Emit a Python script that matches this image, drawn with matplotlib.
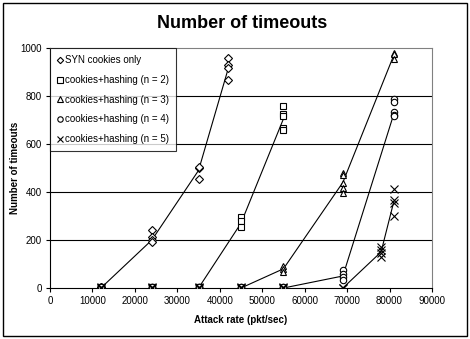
import matplotlib
matplotlib.use("Agg")
import matplotlib.pyplot as plt
from matplotlib.patches import Rectangle

plt.rcParams['font.family'] = ['Liberation Sans', 'DejaVu Sans']

# ---- data ----
series_names = ["SYN cookies only", "cookies+hashing (n = 2)", "cookies+hashing (n = 3)",
                "cookies+hashing (n = 4)", "cookies+hashing (n = 5)"]
markers = ["D", "s", "^", "o", "x"]

# individual trial points (x, y)
syn_x = [12000]*4 + [24000]*4 + [35000]*3 + [42000]*4
syn_y = [0, 2, 4, 6, 240, 213, 199, 192, 453, 498, 505, 958, 930, 915, 865]
n2_x = [12000]*3 + [24000]*3 + [35000]*3 + [45000]*3 + [55000]*5
n2_y = [0, 3, 6, 0, 3, 6, 0, 3, 6, 295, 280, 255, 757, 727, 718, 667, 657]
n3_x = [12000]*3 + [24000]*3 + [35000]*3 + [45000]*3 + [55000]*3 + [69000]*5 + [81000]*3
n3_y = [0, 2, 5]*4 + [92, 80, 67, 478, 471, 439, 416, 395, 980, 976, 953]
n4_x = [12000]*3 + [24000]*3 + [35000]*3 + [45000]*3 + [55000]*3 + [69000]*4 + [81000]*5
n4_y = [0, 3, 5]*5 + [74, 60, 45, 32, 788, 774, 732, 722, 715]
n5_x = [12000]*3 + [24000]*3 + [35000]*3 + [45000]*3 + [55000]*3 + [69000]*2 + [78000]*4 + [81000]*4
n5_y = [0, 2, 4]*5 + [0, 2] + [172, 158, 144, 130, 411, 367, 356, 300]

# average lines
syn_lx = [12000, 24000, 35000, 42000]
syn_ly = [0, 200, 490, 915]
n2_lx = [35000, 45000, 55000]
n2_ly = [0, 270, 705]
n3_lx = [45000, 55000, 69000, 81000]
n3_ly = [0, 80, 440, 970]
n4_lx = [55000, 69000, 81000]
n4_ly = [0, 50, 725]
n5_lx = [69000, 78000, 81000]
n5_ly = [0, 150, 360]

x_ticks = [0, 10000, 20000, 30000, 40000, 50000, 60000, 70000, 80000, 90000]
y_ticks = [0, 200, 400, 600, 800, 1000]

pts = [(syn_x, syn_y), (n2_x, n2_y), (n3_x, n3_y), (n4_x, n4_y), (n5_x, n5_y)]
lines = [(syn_lx, syn_ly), (n2_lx, n2_ly), (n3_lx, n3_ly), (n4_lx, n4_ly), (n5_lx, n5_ly)]

fig = plt.figure(figsize=(4.7, 3.39), dpi=100)
W, H = 470, 339
ax = fig.add_axes([50/W, 1-288/H, (432-50)/W, (288-48)/H])

# outer border
fig.patches.append(Rectangle((3/W, 3/H), (467-3)/W, (336-3)/H, transform=fig.transFigure,
                             fill=False, edgecolor='black', linewidth=1.0))

for y in [200, 400, 600, 800]:
    ax.axhline(y, color='black', linewidth=0.8, zorder=1)

handles = []
for (lx, ly) in lines:
    ax.plot(lx, ly, color='black', linewidth=0.8, zorder=2)
for (px, py), m, name in zip(pts, markers, series_names):
    ms = 3.8 if m == "D" else 4.6
    if m == "x":
        h = ax.plot(px, py, linestyle='none', marker=m, markersize=5.5, color='black',
                    markeredgewidth=0.8, label=name, zorder=3)[0]
    else:
        h = ax.plot(px, py, linestyle='none', marker=m, markersize=ms, markerfacecolor='white',
                    markeredgecolor='black', markeredgewidth=0.8, label=name, zorder=3)[0]
    handles.append(h)

ax.set_xlim(0, 90000)
ax.set_ylim(0, 1000)
ax.set_xticks(x_ticks)
ax.set_yticks(y_ticks)
ax.set_xticklabels([str(v) for v in x_ticks], fontsize=7)
ax.set_yticklabels([str(v) for v in y_ticks], fontsize=7)
ax.tick_params(direction='out', length=3, width=0.8, pad=3)

for s in ['top', 'right']:
    ax.spines[s].set_color('#808080')
    ax.spines[s].set_linewidth(0.8)
for s in ['left', 'bottom']:
    ax.spines[s].set_color('black')
    ax.spines[s].set_linewidth(0.8)

ax.set_xlabel("Attack rate (pkt/sec)", fontsize=7, fontweight='bold', labelpad=6)
ax.set_ylabel("Number of timeouts", fontsize=7, fontweight='bold')
ax.yaxis.set_label_coords((20-50)/382, 0.5)
fig.text(242/W, 1-24/H, "Number of timeouts", ha='center', va='center',
         fontsize=13, fontweight='bold')

leg = ax.legend(handles=handles, loc='upper left', bbox_to_anchor=(0, 1), fontsize=7.0,
                frameon=True, fancybox=False, shadow=False, borderaxespad=0,
                handlelength=0.5, handletextpad=0.25, labelspacing=1.0,
                borderpad=0.75, numpoints=1, markerscale=0.85)
leg.get_frame().set_edgecolor('black')
leg.get_frame().set_linewidth(0.8)

fig.savefig("out.png", dpi=100)
